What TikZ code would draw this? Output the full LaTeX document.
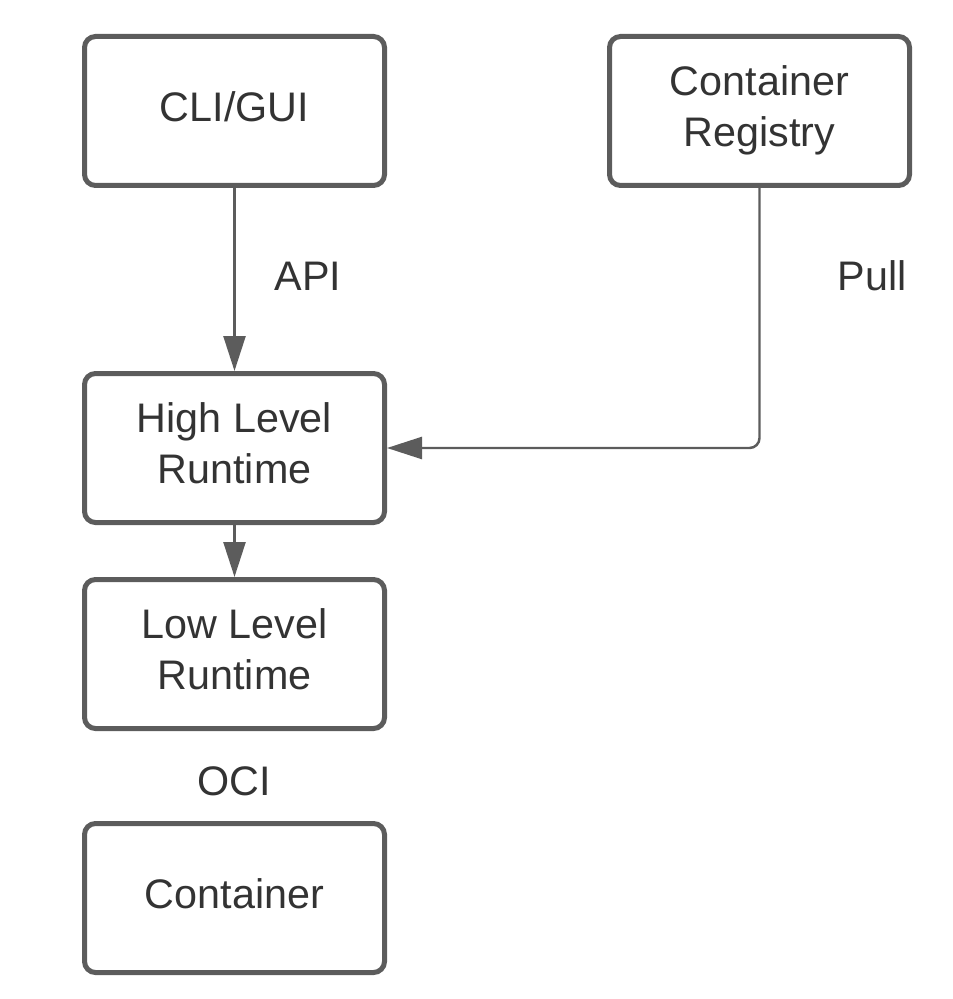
\documentclass[tikz,border=0pt]{standalone}
\usepackage{fontspec}
\setmainfont{Liberation Sans}
\usetikzlibrary{arrows.meta}
\definecolor{edgegray}{HTML}{5C5C5C}
\definecolor{textgray}{HTML}{333333}
\newcommand{\boxlines}[1]{\raisebox{0.12cm}{\begin{tabular}{@{}c@{}}#1\end{tabular}}}
\begin{document}
\begin{tikzpicture}[line width = 1.4pt,
                        block/.style = {rectangle, draw = edgegray, line width = 0.1cm, rounded corners = 0.22cm,
                                        minimum width = 6cm, minimum height = 2.98cm,
                                        text = textgray, font = \fontsize{23.5}{28.5}\selectfont},
                        lbl/.style = {text = textgray, font = \fontsize{23.5}{28.5}\selectfont},
                        link/.style = {draw = edgegray, -{Triangle[length = 0.7cm, width = 0.44cm]}}]
      \useasboundingbox (0, 0) rectangle (19.06, -19.98);
      \node [block] (b1) at (4.69, -2.22){\boxlines{CLI/GUI}};
      \node [block] (b2) at (15.19, -2.22){\boxlines{Container\\Registry}};
      \node [block] (b3) at (4.69, -8.96){\boxlines{High Level\\Runtime}};
      \node [block] (b4) at (4.69, -13.08){\boxlines{Low Level\\Runtime}};
      \node [block] (b5) at (4.69, -17.96){\boxlines{Container}};
      \node [lbl] (l1) at (6.16, -5.52){API};
      \node [lbl] (l2) at (17.44, -5.52){Pull};
      \node [lbl] (l3) at (4.69, -15.62){OCI};
      \draw [link] (b1) -- (b3);
      \draw [link, rounded corners = 0.2cm] (b2.south) |- (b3.east);
      \draw [link] (b3) -- (b4);
    \end{tikzpicture}
\end{document}
